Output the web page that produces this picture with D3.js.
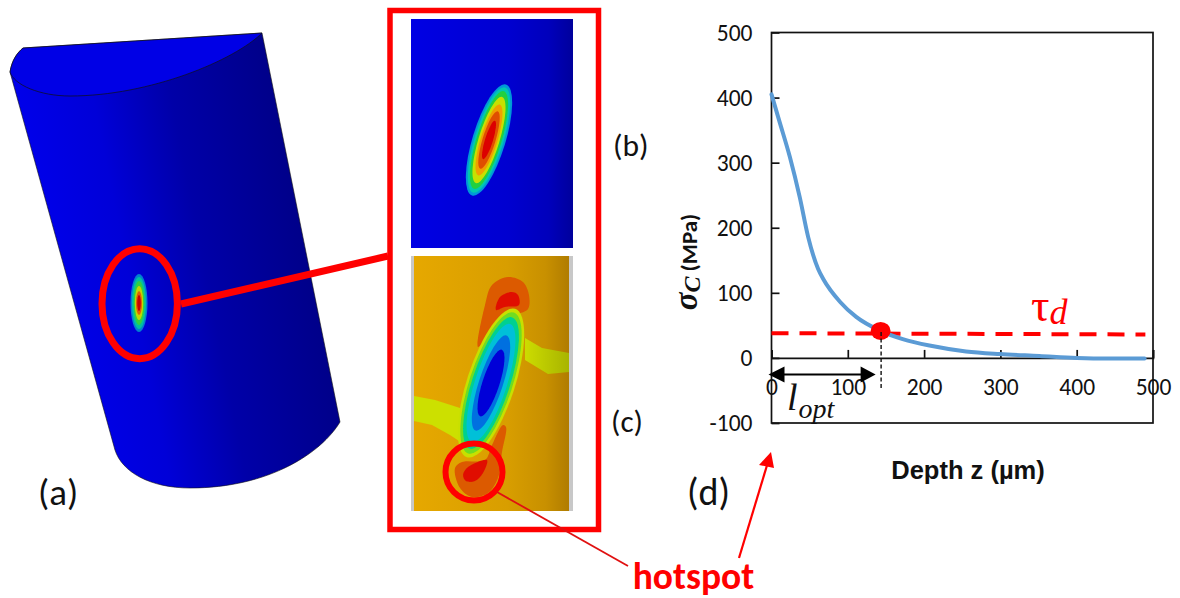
<!DOCTYPE html>
<html><head><meta charset="utf-8">
<script src="https://cdnjs.cloudflare.com/ajax/libs/d3/7.8.5/d3.min.js"></script>
<style>html,body{margin:0;background:#fff}svg{display:block}</style></head>
<body><svg id="c" width="1180" height="598"></svg>
<script>
// chart data
const depthZ   = [0,10,24,37,48,61,68,90,111,142,172,207,255,299,351,400,439,489];
const sigmaC   = [405,365,309,247,186,137,121,86,63,42,29,19,10,6,3,0,-1,-1];
const tauDepth = [0,490];
const tauValue = [38,36];
const hotDepth = 143, hotStress = 43;
const xTicks = [0,100,200,300,400,500];
const yTicks = [-100,0,100,200,300,400,500];

// illustration outlines
const contourB = [["#0098d8",16.5,58],["#00c8b0",14.5,55],["#22d040",12.5,51],["#c8e000",10.5,45],["#f0a000",8.5,37],["#e05000",6.5,30],["#dc0000",4,20]];
const contourC = [["#c8e000",24,78],["#70dc20",21.5,74],["#00d090",19,69],["#00c0d8",16,62],["#0070e0",12,50],["#0000d8",8.5,35]];
const contourA = [["#0080d0",8.5,29],["#00c0a0",7,26],["#30d040",5.5,22],["#c0d800",4.2,17],["#e06000",3,12],["#c80000",1.8,8]];
const bandL = [[414,396],[435,400],[460,408],[465,445],[450,435],[432,425],[414,421]];
const bandR = [[525,338],[542,348],[569,353],[569,372],[548,374],[525,360]];
const orangeTop = [[478,347],[485,305],[492,285],[508,277],[523,282],[529,295],[528,309],[518,314],[498,322],[485,340]];
const redTop = [[496,310],[500,297],[512,292],[518,295],[519,305],[505,307]];
const orangeBot = [[455,468],[462,462],[485,460],[492,445],[503,425],[506,427],[502,452],[498,478],[488,493],[472,497],[460,488]];
const redBot = [[463,475],[468,467],[487,460],[483,473],[475,481],[466,481]];

const svg = d3.select("#c");
const defs = svg.append("defs");
function grad(id, stops, span){
  const g = defs.append("linearGradient").attr("id",id);
  if(span) g.attr("gradientUnits","userSpaceOnUse").attr("x1",span[0]).attr("y1",span[1]).attr("x2",span[2]).attr("y2",span[3]);
  stops.forEach(([o,c])=>g.append("stop").attr("offset",o).attr("stop-color",c));
}
grad("cyl",[[0,"#0000ea"],[.3,"#0000d8"],[.6,"#0000a8"],[1,"#00008a"]],[10,72,260,22]);
grad("pb",[[0,"#0000e4"],[.6,"#0000d0"],[.85,"#0000bc"],[1,"#00009c"]]);
grad("pc",[[0,"#e6a800"],[.6,"#d89e00"],[.85,"#c89000"],[1,"#b07c00"]]);
grad("bandRFill",[[0,"#ccdc00"],[1,"#a8b400"]]);
defs.append("filter").attr("id","soft").append("feGaussianBlur").attr("stdDeviation",0.6);
const poly = d3.line().curve(d3.curveCatmullRomClosed.alpha(.5));

function blob(g,cx,cy,rot,levels){
  g.selectAll(null).data(levels).join("ellipse")
   .attr("cx",cx).attr("cy",cy).attr("rx",d=>d[1]).attr("ry",d=>d[2])
   .attr("transform",`rotate(${rot} ${cx} ${cy})`).attr("fill",d=>d[0]);
}

// (a) cylinder
const a = svg.append("g");
a.append("path").attr("d","M10,72 C12,60 17,53 23,48 L262,33 L340,422 C322,452 270,488 190,488 C150,488 122,472 115,450 Z")
 .attr("fill","url(#cyl)").attr("stroke","#111").attr("stroke-width",.6);
a.append("path").attr("d","M10,72 C12,60 17,53 23,48 L262,33 C235,60 150,96 70,96 C40,96 14,85 10,72 Z")
 .attr("fill","#0000e6").attr("stroke","#111").attr("stroke-width",.7);
blob(a.append("g").attr("filter","url(#soft)"),139,303,0,contourA);
a.append("ellipse").attr("cx",139.7).attr("cy",303.7).attr("rx",37.7).attr("ry",55)
 .attr("fill","none").attr("stroke","#ff0000").attr("stroke-width",7);
a.append("line").attr("x1",181).attr("y1",304).attr("x2",388).attr("y2",256)
 .attr("stroke","#ff0000").attr("stroke-width",7);

// (b) panel
const b = svg.append("g");
b.append("rect").attr("x",411).attr("y",19).attr("width",162).attr("height",229).attr("fill","url(#pb)");
blob(b.append("g").attr("filter","url(#soft)"),489,140,17,contourB);

// (c) panel
const c = svg.append("g");
c.append("rect").attr("x",411).attr("y",256).attr("width",162).attr("height",255).attr("fill","#c8c8c8");
c.append("rect").attr("x",414).attr("y",256).attr("width",155).attr("height",255).attr("fill","url(#pc)");
const cg = c.append("g").attr("filter","url(#soft)");
[[orangeTop,"#dc5a00"],[redTop,"#e01000"],[orangeBot,"#dc5a00"],[redBot,"#e01000"]]
  .forEach(([p,f])=>cg.append("path").attr("d",poly(p)).attr("fill",f));
cg.append("path").attr("d",d3.line()(bandL)+"Z").attr("fill","#cce000");
cg.append("path").attr("d",d3.line()(bandR)+"Z").attr("fill","url(#bandRFill)");
blob(cg,491,383,18,contourC);
c.append("circle").attr("cx",474).attr("cy",472).attr("r",28.5).attr("fill","none").attr("stroke","#ff0000").attr("stroke-width",6);
svg.append("rect").attr("x",390).attr("y",10.5).attr("width",208.5).attr("height",519)
 .attr("fill","none").attr("stroke","#ff0000").attr("stroke-width",5.5);

// (d) chart
const x = d3.scaleLinear().domain([0,500]).range([771.5,1153]);
const y = d3.scaleLinear().domain([-100,500]).range([423,32.5]);
const font = "Carlito,Lato,'Open Sans',sans-serif";
const frame = svg.append("g");
frame.append("rect").attr("x",x(0)).attr("y",y(500)).attr("width",x(500)-x(0)).attr("height",y(-100)-y(500))
  .attr("fill","none").attr("stroke","#111").attr("stroke-width",1.7);
const gy = svg.append("g").attr("transform",`translate(${x(0)},0)`)
  .call(d3.axisLeft(y).tickValues(yTicks).tickSize(-8).tickPadding(19).tickFormat(d3.format("d")));
gy.select(".domain").remove();
gy.selectAll("line").attr("stroke","#111").attr("stroke-width",1.7);
gy.selectAll("text").attr("font-family",font).attr("font-size",23.5).attr("fill","#111").text(d=>String(d));
const gx = svg.append("g").attr("transform",`translate(0,${y(0)})`)
  .call(d3.axisBottom(x).tickValues(xTicks).tickSize(-8).tickPadding(20).tickFormat(d3.format("d")));
gx.select(".domain").attr("stroke","#111").attr("stroke-width",1.7);
gx.selectAll("line").attr("stroke","#111").attr("stroke-width",1.7);
gx.selectAll("text").attr("font-family",font).attr("font-size",23.5).attr("fill","#111");

svg.append("path").attr("fill","none").attr("stroke","#ff0000").attr("stroke-width",4).attr("stroke-dasharray","17 11")
  .attr("d",d3.line().x(d=>x(d)).y((d,i)=>y(tauValue[i]))(tauDepth));
svg.append("path").attr("fill","none").attr("stroke","#5b9bd5").attr("stroke-width",4).attr("stroke-linecap","round")
  .attr("d",d3.line().x((d,i)=>x(d)).y((d,i)=>y(sigmaC[i])).curve(d3.curveMonotoneX)(depthZ));
svg.append("ellipse").attr("cx",x(hotDepth)).attr("cy",y(hotStress)+1).attr("rx",10).attr("ry",9).attr("fill","#ff0000");
svg.append("line").attr("x1",x(hotDepth)+.5).attr("x2",x(hotDepth)+.5).attr("y1",y(hotStress)+2).attr("y2",390)
  .attr("stroke","#111").attr("stroke-width",1.4).attr("stroke-dasharray","4 2.5");
// l_opt arrow
svg.append("line").attr("x1",x(0)+6).attr("x2",x(hotDepth)-10).attr("y1",374.5).attr("y2",374.5).attr("stroke","#000").attr("stroke-width",2);
svg.append("path").attr("d",`M${x(0)-3},374.5 l16,-8 v16 Z`).attr("fill","#000");
svg.append("path").attr("d",`M${x(hotDepth)-5},374.5 l-15,-8 v16 Z`).attr("fill","#000");

function text(s,tx,ty,size,opt={}){
  return svg.append("text").attr("x",tx).attr("y",ty).attr("font-size",size)
    .attr("font-family",opt.family||font).attr("font-weight",opt.weight||400)
    .attr("font-style",opt.style||"normal").attr("fill",opt.fill||"#111")
    .attr("text-anchor",opt.anchor||"start").text(s);
}
const lo = text("",787,410,38,{family:"'Liberation Serif',serif",style:"italic"});
lo.append("tspan").text("l");
lo.append("tspan").attr("font-size",28).attr("dy",8).attr("dx",1).text("opt");
const td = text("",1031,321,46,{family:"'Liberation Serif',serif",fill:"#ff0000"});
td.append("tspan").text("τ");
td.append("tspan").attr("font-size",36).attr("dy",3).attr("font-style","italic").text("d");

text("Depth z (µm)",968,479,25.5,{family:"'Liberation Sans',Arial,sans-serif",weight:700,anchor:"middle"});
const yl = svg.append("text").attr("transform","translate(697,262) rotate(-90)").attr("text-anchor","middle")
  .attr("font-family",font).attr("font-weight",700).attr("fill","#111").attr("font-size",23);
yl.append("tspan").attr("font-family","'Liberation Serif',serif").attr("font-style","italic").attr("font-size",33).text("σ");
yl.append("tspan").attr("font-family","'Liberation Serif',serif").attr("font-style","italic").attr("font-size",24).attr("dy",3).text("C");
yl.append("tspan").attr("dy",-3).attr("dx",5).text("(MPa)");

text("(a)",38,505,37);
text("(b)",613,156,31.5);
text("(c)",611,432,31);
text("(d)",687,505,38);
text("hotspot",693.5,589,37.5,{weight:700,fill:"#ff0000",anchor:"middle"});

// hotspot leaders
svg.append("line").attr("x1",497).attr("y1",492).attr("x2",628).attr("y2",566).attr("stroke","#e01010").attr("stroke-width",1.8);
svg.append("line").attr("x1",739).attr("y1",558).attr("x2",768).attr("y2",462).attr("stroke","#ff0000").attr("stroke-width",2.2);
svg.append("path").attr("d","M771,452 L759,465 L774,468 Z").attr("fill","#ff0000");
</script></body></html>
